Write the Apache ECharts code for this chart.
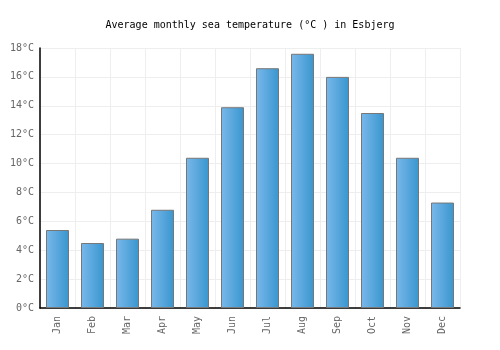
<!DOCTYPE html>
<html>
<head>
<meta charset="utf-8">
<script src="https://cdn.jsdelivr.net/npm/echarts@6/dist/echarts.min.js"></script>
<style>
  html, body { margin: 0; padding: 0; background: #fff; }
  #chart { width: 500px; height: 350px; }
</style>
</head>
<body>
<div id="chart"></div>
<script>
// monthly sea temperature
const months = ["Jan", "Feb", "Mar", "Apr", "May", "Jun", "Jul", "Aug", "Sep", "Oct", "Nov", "Dec"];
const seaTemp = [5.4, 4.5, 4.8, 6.8, 10.4, 13.9, 16.6, 17.6, 16.0, 13.5, 10.4, 7.3];

const font = "DejaVu Sans Mono";

const chart = echarts.init(document.getElementById("chart"));

chart.setOption({
  animation: false,
  title: {
    text: "Average monthly sea temperature (°C ) in Esbjerg",
    left: "center",
    top: 15,
    textStyle: { fontFamily: font, fontSize: 10, fontWeight: "normal", color: "#000" }
  },
  grid: { left: 40, right: 40, top: 48, bottom: 42 },
  xAxis: {
    type: "category",
    data: months,
    axisLine: { lineStyle: { color: "#000", width: 1.5 } },
    axisTick: { show: false },
    axisLabel: { rotate: 90, fontFamily: font, fontSize: 10, color: "#666", margin: 8 },
    splitLine: { show: true, lineStyle: { color: "#eee" } }
  },
  yAxis: {
    type: "value",
    min: 0,
    max: 18,
    interval: 2,
    axisLine: { show: true, lineStyle: { color: "#000", width: 1.5 } },
    axisTick: { show: false },
    axisLabel: { formatter: "{value}°C", fontFamily: font, fontSize: 10, color: "#666", margin: 6 },
    splitLine: { lineStyle: { color: "#eee" } }
  },
  series: [{
    type: "bar",
    data: seaTemp,
    barWidth: 23,
    itemStyle: {
      color: new echarts.graphic.LinearGradient(0, 0, 1, 0, [
        { offset: 0, color: "#7ab8ea" },
        { offset: 1, color: "#3896cf" }
      ]),
      borderColor: "#777",
      borderWidth: 1
    }
  }]
});
</script>
</body>
</html>
